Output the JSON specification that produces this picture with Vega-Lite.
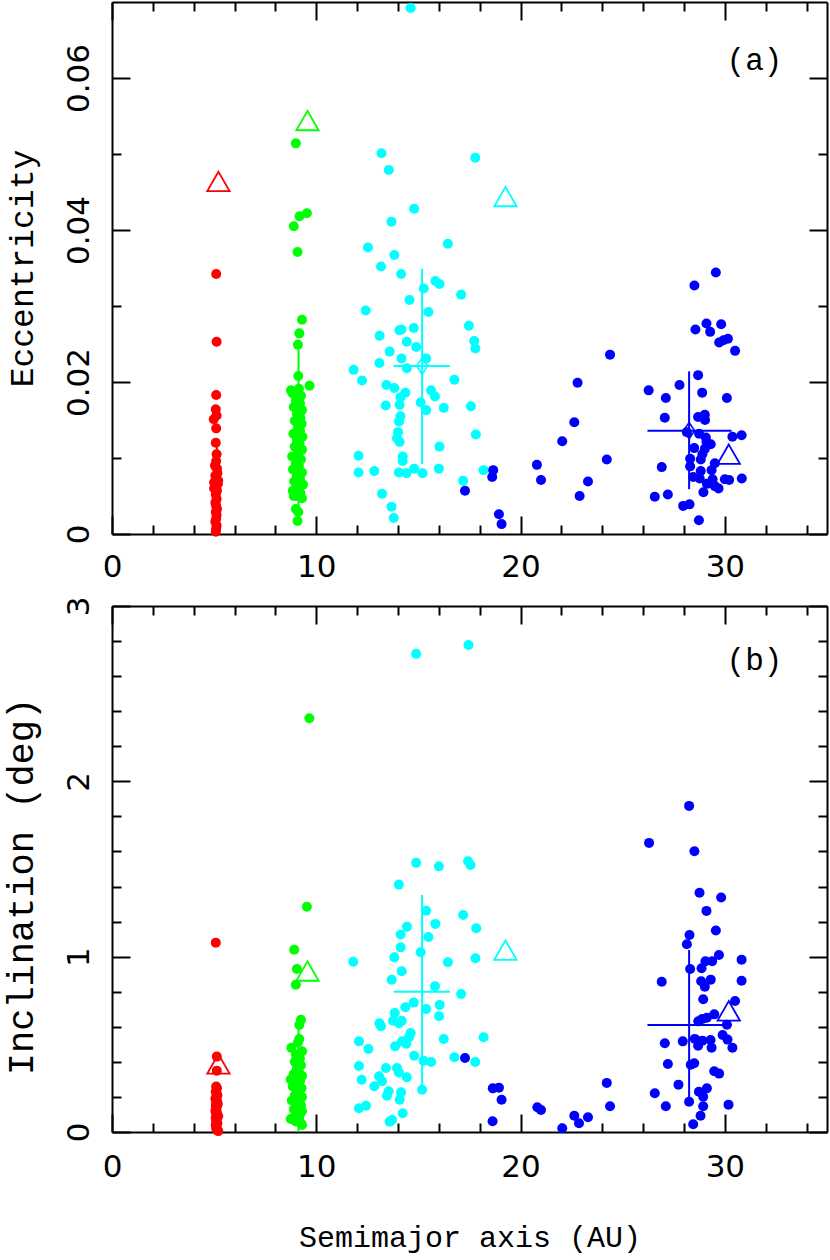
{
  "$schema": "https://vega.github.io/schema/vega-lite/v6.json",
  "padding": {"left": 1, "top": 1, "right": 2, "bottom": 8},
  "background": "white",
  "bounds": "flush",
  "spacing": 72,
  "config": {
    "view": {"stroke": null},
    "axis": {
      "grid": false, "domainColor": "black", "domainWidth": 2, "tickColor": "black", "tickWidth": 2,
      "labelColor": "black", "titleColor": "black", "labelFont": "DejaVu Sans", "labelFontSize": 31,
      "titleFont": "Liberation Mono", "titleFontWeight": "normal", "labelOverlap": false, "labelFlush": false, "labelBound": false
    }
  },
  "datasets": {
    "me": [
      {"g":"J","a":5.10,"v":0.0342},{"g":"J","a":5.12,"v":0.0253},{"g":"J","a":5.10,"v":0.0183},{"g":"J","a":5.08,"v":0.0164},{"g":"J","a":5.12,"v":0.0156},{"g":"J","a":4.98,"v":0.0151},{"g":"J","a":5.10,"v":0.0139},{"g":"J","a":5.08,"v":0.0120},{"g":"J","a":5.12,"v":0.0105},{"g":"J","a":5.10,"v":0.0096},{"g":"J","a":5.14,"v":0.0086},{"g":"J","a":5.06,"v":0.0077},{"g":"J","a":5.20,"v":0.0070},{"g":"J","a":5.00,"v":0.0068},{"g":"J","a":5.10,"v":0.0064},{"g":"J","a":5.14,"v":0.0057},{"g":"J","a":5.08,"v":0.0052},{"g":"J","a":5.12,"v":0.0046},{"g":"J","a":5.06,"v":0.0041},{"g":"J","a":5.10,"v":0.0037},{"g":"J","a":5.14,"v":0.0033},{"g":"J","a":5.08,"v":0.0029},{"g":"J","a":5.12,"v":0.0025},{"g":"J","a":5.10,"v":0.0020},{"g":"J","a":5.06,"v":0.0016},{"g":"J","a":5.12,"v":0.0011},{"g":"J","a":5.10,"v":0.0007},{"g":"J","a":5.08,"v":0.0003},{"g":"J","a":5.16,"v":0.0080},{"g":"J","a":5.04,"v":0.0090},{"g":"J","a":5.00,"v":0.0060},
      {"g":"S","a":9.00,"v":0.0514},{"g":"S","a":9.18,"v":0.0418},{"g":"S","a":9.54,"v":0.0422},{"g":"S","a":8.90,"v":0.0405},{"g":"S","a":9.08,"v":0.0371},{"g":"S","a":9.30,"v":0.0282},{"g":"S","a":9.17,"v":0.0264},{"g":"S","a":9.10,"v":0.0249},{"g":"S","a":9.12,"v":0.0208},{"g":"S","a":9.67,"v":0.0195},{"g":"S","a":8.76,"v":0.0189},{"g":"S","a":9.15,"v":0.0191},
      {"g":"S","a":8.85,"v":0.0185},{"g":"S","a":9.25,"v":0.0182},{"g":"S","a":9.00,"v":0.0176},{"g":"S","a":9.20,"v":0.0172},{"g":"S","a":8.90,"v":0.0167},{"g":"S","a":9.30,"v":0.0163},{"g":"S","a":9.05,"v":0.0158},{"g":"S","a":9.22,"v":0.0153},{"g":"S","a":8.95,"v":0.0149},{"g":"S","a":9.28,"v":0.0145},{"g":"S","a":9.10,"v":0.0140},{"g":"S","a":9.20,"v":0.0136},{"g":"S","a":8.88,"v":0.0132},{"g":"S","a":9.32,"v":0.0128},{"g":"S","a":9.05,"v":0.0124},{"g":"S","a":9.18,"v":0.0119},{"g":"S","a":8.95,"v":0.0115},{"g":"S","a":9.30,"v":0.0111},{"g":"S","a":9.10,"v":0.0106},{"g":"S","a":8.82,"v":0.0102},{"g":"S","a":9.25,"v":0.0098},{"g":"S","a":9.00,"v":0.0093},{"g":"S","a":9.15,"v":0.0089},{"g":"S","a":8.86,"v":0.0085},{"g":"S","a":9.30,"v":0.0081},{"g":"S","a":9.05,"v":0.0077},{"g":"S","a":9.20,"v":0.0073},{"g":"S","a":8.92,"v":0.0069},{"g":"S","a":9.35,"v":0.0065},{"g":"S","a":9.10,"v":0.0061},{"g":"S","a":8.85,"v":0.0057},{"g":"S","a":9.22,"v":0.0054},{"g":"S","a":9.00,"v":0.0050},{"g":"S","a":9.30,"v":0.0047},{"g":"S","a":8.90,"v":0.0050},{"g":"S","a":9.00,"v":0.0033},{"g":"S","a":9.12,"v":0.0029},{"g":"S","a":9.08,"v":0.0017},
      {"g":"U","a":13.19,"v":0.0501},{"g":"U","a":13.55,"v":0.0479},{"g":"U","a":13.68,"v":0.0411},{"g":"U","a":12.53,"v":0.0377},{"g":"U","a":13.82,"v":0.0367},{"g":"U","a":13.17,"v":0.0352},{"g":"U","a":14.15,"v":0.0342},{"g":"U","a":14.62,"v":0.0692},{"g":"U","a":17.78,"v":0.0495},{"g":"U","a":14.79,"v":0.0428},{"g":"U","a":16.44,"v":0.0382},
      {"g":"U","a":12.42,"v":0.0294},{"g":"U","a":13.10,"v":0.0261},{"g":"U","a":13.59,"v":0.0240},{"g":"U","a":13.09,"v":0.0225},{"g":"U","a":11.83,"v":0.0216},{"g":"U","a":12.24,"v":0.0202},{"g":"U","a":13.43,"v":0.0196},{"g":"U","a":13.82,"v":0.0192},{"g":"U","a":13.40,"v":0.0169},{"g":"U","a":12.07,"v":0.0103},{"g":"U","a":12.07,"v":0.0081},{"g":"U","a":12.84,"v":0.0083},{"g":"U","a":13.22,"v":0.0053},{"g":"U","a":13.68,"v":0.0036},{"g":"U","a":13.79,"v":0.0021},{"g":"U","a":14.07,"v":0.0268},
      {"g":"U","a":15.26,"v":0.0323},{"g":"U","a":15.83,"v":0.0333},{"g":"U","a":16.03,"v":0.0329},{"g":"U","a":17.09,"v":0.0315},{"g":"U","a":14.56,"v":0.0308},{"g":"U","a":15.49,"v":0.0292},{"g":"U","a":17.47,"v":0.0274},{"g":"U","a":14.17,"v":0.0269},{"g":"U","a":14.77,"v":0.0271},{"g":"U","a":14.43,"v":0.0253},{"g":"U","a":17.73,"v":0.0254},{"g":"U","a":17.79,"v":0.0244},{"g":"U","a":14.89,"v":0.0246},{"g":"U","a":14.17,"v":0.0231},{"g":"U","a":15.38,"v":0.0231},{"g":"U","a":14.43,"v":0.0218},{"g":"U","a":16.76,"v":0.0203},{"g":"U","a":14.36,"v":0.0186},{"g":"U","a":14.12,"v":0.0180},{"g":"U","a":15.62,"v":0.0189},{"g":"U","a":15.81,"v":0.0181},{"g":"U","a":14.08,"v":0.0170},{"g":"U","a":15.11,"v":0.0173},{"g":"U","a":15.38,"v":0.0163},{"g":"U","a":16.24,"v":0.0166},{"g":"U","a":17.57,"v":0.0168},{"g":"U","a":14.12,"v":0.0155},{"g":"U","a":14.05,"v":0.0148},{"g":"U","a":14.00,"v":0.0134},{"g":"U","a":13.95,"v":0.0126},{"g":"U","a":14.08,"v":0.0121},{"g":"U","a":17.81,"v":0.0131},{"g":"U","a":16.03,"v":0.0115},{"g":"U","a":14.23,"v":0.0102},{"g":"U","a":14.23,"v":0.0096},{"g":"U","a":14.04,"v":0.0081},{"g":"U","a":14.41,"v":0.0080},{"g":"U","a":14.79,"v":0.0086},{"g":"U","a":15.20,"v":0.0080},{"g":"U","a":16.00,"v":0.0086},{"g":"U","a":18.19,"v":0.0084},{"g":"U","a":17.19,"v":0.0070},
      {"g":"N","a":22.79,"v":0.0199},{"g":"N","a":22.63,"v":0.0147},{"g":"N","a":22.04,"v":0.0122},{"g":"N","a":20.80,"v":0.0091},{"g":"N","a":21.00,"v":0.0071},{"g":"N","a":22.89,"v":0.0050},{"g":"N","a":23.30,"v":0.0069},{"g":"N","a":18.66,"v":0.0084},{"g":"N","a":18.61,"v":0.0075},{"g":"N","a":17.28,"v":0.0057},{"g":"N","a":18.94,"v":0.0026},{"g":"N","a":19.07,"v":0.0013},{"g":"N","a":24.38,"v":0.0236},{"g":"N","a":24.22,"v":0.0098},
      {"g":"N","a":29.56,"v":0.0344},{"g":"N","a":28.51,"v":0.0327},{"g":"N","a":29.10,"v":0.0277},{"g":"N","a":29.82,"v":0.0276},{"g":"N","a":28.56,"v":0.0269},{"g":"N","a":29.28,"v":0.0266},{"g":"N","a":29.72,"v":0.0252},{"g":"N","a":29.93,"v":0.0255},{"g":"N","a":30.15,"v":0.0257},{"g":"N","a":30.50,"v":0.0241},{"g":"N","a":28.69,"v":0.0209},{"g":"N","a":26.27,"v":0.0189},{"g":"N","a":27.78,"v":0.0196},{"g":"N","a":27.11,"v":0.0179},{"g":"N","a":28.89,"v":0.0186},{"g":"N","a":30.10,"v":0.0179},{"g":"N","a":27.06,"v":0.0153},{"g":"N","a":28.69,"v":0.0154},{"g":"N","a":29.02,"v":0.0157},{"g":"N","a":29.03,"v":0.0150},{"g":"N","a":28.14,"v":0.0134},{"g":"N","a":28.74,"v":0.0132},{"g":"N","a":29.07,"v":0.0127},{"g":"N","a":29.10,"v":0.0121},{"g":"N","a":29.31,"v":0.0118},{"g":"N","a":30.37,"v":0.0128},{"g":"N","a":30.82,"v":0.0130},{"g":"N","a":28.50,"v":0.0113},{"g":"N","a":29.02,"v":0.0112},{"g":"N","a":28.90,"v":0.0105},{"g":"N","a":28.82,"v":0.0098},{"g":"N","a":28.30,"v":0.0099},{"g":"N","a":28.30,"v":0.0089},{"g":"N","a":29.51,"v":0.0093},{"g":"N","a":29.35,"v":0.0084},{"g":"N","a":28.82,"v":0.0083},{"g":"N","a":26.91,"v":0.0088},{"g":"N","a":28.45,"v":0.0075},{"g":"N","a":28.77,"v":0.0073},{"g":"N","a":29.40,"v":0.0072},{"g":"N","a":30.00,"v":0.0072},{"g":"N","a":30.21,"v":0.0071},{"g":"N","a":30.83,"v":0.0073},{"g":"N","a":29.12,"v":0.0066},{"g":"N","a":29.51,"v":0.0063},{"g":"N","a":29.69,"v":0.0060},{"g":"N","a":28.95,"v":0.0055},{"g":"N","a":26.57,"v":0.0049},{"g":"N","a":27.21,"v":0.0052},{"g":"N","a":27.96,"v":0.0037},{"g":"N","a":28.27,"v":0.0039},{"g":"N","a":28.73,"v":0.0018}
    ],
    "mi": [
      {"g":"J","a":5.08,"v":1.08},{"g":"J","a":5.13,"v":0.43},{"g":"J","a":5.13,"v":0.35},
      {"g":"J","a":5.10,"v":0.26},{"g":"J","a":5.14,"v":0.25},{"g":"J","a":5.08,"v":0.23},{"g":"J","a":5.12,"v":0.22},{"g":"J","a":5.16,"v":0.21},{"g":"J","a":5.10,"v":0.20},{"g":"J","a":5.06,"v":0.19},{"g":"J","a":5.14,"v":0.18},{"g":"J","a":5.10,"v":0.17},{"g":"J","a":5.18,"v":0.16},{"g":"J","a":5.08,"v":0.15},{"g":"J","a":5.12,"v":0.14},{"g":"J","a":5.10,"v":0.13},{"g":"J","a":5.06,"v":0.12},{"g":"J","a":5.14,"v":0.11},{"g":"J","a":5.10,"v":0.10},{"g":"J","a":5.20,"v":0.09},{"g":"J","a":5.08,"v":0.08},{"g":"J","a":5.12,"v":0.07},{"g":"J","a":5.10,"v":0.06},{"g":"J","a":5.16,"v":0.05},{"g":"J","a":5.08,"v":0.04},{"g":"J","a":5.12,"v":0.03},{"g":"J","a":5.10,"v":0.02},{"g":"J","a":5.14,"v":0.01},{"g":"J","a":5.20,"v":0.005},
      {"g":"S","a":9.54,"v":1.285},{"g":"S","a":8.92,"v":1.04},{"g":"S","a":9.05,"v":0.93},{"g":"S","a":9.00,"v":0.84},{"g":"S","a":9.25,"v":0.64},{"g":"S","a":9.17,"v":0.61},{"g":"S","a":9.66,"v":2.36},{"g":"S","a":8.78,"v":0.48},{"g":"S","a":9.17,"v":0.53},{"g":"S","a":9.30,"v":0.46},{"g":"S","a":8.75,"v":0.30},{"g":"S","a":8.75,"v":0.074},{"g":"S","a":9.25,"v":0.05},
      {"g":"S","a":9.10,"v":0.51},{"g":"S","a":9.00,"v":0.44},{"g":"S","a":9.20,"v":0.42},{"g":"S","a":8.95,"v":0.40},{"g":"S","a":9.25,"v":0.38},{"g":"S","a":9.05,"v":0.36},{"g":"S","a":9.15,"v":0.34},{"g":"S","a":8.90,"v":0.33},{"g":"S","a":9.30,"v":0.32},{"g":"S","a":9.00,"v":0.31},{"g":"S","a":9.20,"v":0.29},{"g":"S","a":9.10,"v":0.27},{"g":"S","a":8.85,"v":0.26},{"g":"S","a":9.28,"v":0.25},{"g":"S","a":9.05,"v":0.24},{"g":"S","a":9.15,"v":0.22},{"g":"S","a":8.95,"v":0.21},{"g":"S","a":9.30,"v":0.20},{"g":"S","a":9.10,"v":0.19},{"g":"S","a":8.80,"v":0.18},{"g":"S","a":9.20,"v":0.17},{"g":"S","a":9.00,"v":0.16},{"g":"S","a":9.25,"v":0.15},{"g":"S","a":9.10,"v":0.14},{"g":"S","a":8.90,"v":0.13},{"g":"S","a":9.30,"v":0.12},{"g":"S","a":9.05,"v":0.11},{"g":"S","a":9.20,"v":0.10},{"g":"S","a":8.95,"v":0.09},{"g":"S","a":9.15,"v":0.08},{"g":"S","a":9.00,"v":0.06},{"g":"S","a":9.30,"v":0.04},
      {"g":"U","a":14.89,"v":2.727},{"g":"U","a":17.45,"v":2.778},
      {"g":"U","a":14.89,"v":1.535},{"g":"U","a":16.00,"v":1.515},{"g":"U","a":17.43,"v":1.544},{"g":"U","a":17.55,"v":1.523},{"g":"U","a":14.04,"v":1.411},{"g":"U","a":15.38,"v":1.262},{"g":"U","a":17.19,"v":1.238},{"g":"U","a":15.83,"v":1.187},{"g":"U","a":14.44,"v":1.171},{"g":"U","a":17.83,"v":1.162},{"g":"U","a":14.13,"v":1.126},{"g":"U","a":15.49,"v":1.112},{"g":"U","a":14.13,"v":1.053},{"g":"U","a":15.11,"v":1.025},{"g":"U","a":13.82,"v":0.996},{"g":"U","a":11.81,"v":0.971},{"g":"U","a":16.44,"v":0.968},{"g":"U","a":17.79,"v":0.991},{"g":"U","a":14.18,"v":0.917},{"g":"U","a":13.69,"v":0.869},{"g":"U","a":15.81,"v":0.831},{"g":"U","a":17.09,"v":0.787},{"g":"U","a":14.77,"v":0.738},{"g":"U","a":16.04,"v":0.725},{"g":"U","a":14.36,"v":0.711},{"g":"U","a":15.38,"v":0.702},{"g":"U","a":13.84,"v":0.679},{"g":"U","a":16.01,"v":0.66},{"g":"U","a":13.76,"v":0.635},{"g":"U","a":14.18,"v":0.635},{"g":"U","a":14.05,"v":0.62},{"g":"U","a":13.09,"v":0.62},{"g":"U","a":13.17,"v":0.603},{"g":"U","a":14.62,"v":0.565},{"g":"U","a":14.54,"v":0.54},{"g":"U","a":12.09,"v":0.517},{"g":"U","a":16.24,"v":0.53},{"g":"U","a":18.19,"v":0.54},{"g":"U","a":14.20,"v":0.517},{"g":"U","a":14.41,"v":0.504},{"g":"U","a":13.86,"v":0.489},{"g":"U","a":12.55,"v":0.473},{"g":"U","a":14.79,"v":0.435},{"g":"U","a":16.76,"v":0.426},{"g":"U","a":15.25,"v":0.407},{"g":"U","a":15.62,"v":0.399},{"g":"U","a":17.78,"v":0.399},{"g":"U","a":12.09,"v":0.376},{"g":"U","a":13.41,"v":0.365},{"g":"U","a":13.95,"v":0.365},{"g":"U","a":14.04,"v":0.34},{"g":"U","a":14.43,"v":0.312},{"g":"U","a":13.07,"v":0.318},{"g":"U","a":12.22,"v":0.298},{"g":"U","a":13.22,"v":0.289},{"g":"U","a":12.84,"v":0.261},{"g":"U","a":13.54,"v":0.232},{"g":"U","a":14.15,"v":0.226},{"g":"U","a":13.46,"v":0.207},{"g":"U","a":14.08,"v":0.184},{"g":"U","a":15.18,"v":0.241},{"g":"U","a":12.09,"v":0.135},{"g":"U","a":12.43,"v":0.15},{"g":"U","a":14.23,"v":0.107},{"g":"U","a":13.71,"v":0.068},{"g":"U","a":13.59,"v":0.059},
      {"g":"N","a":17.28,"v":0.422},{"g":"N","a":18.64,"v":0.249},{"g":"N","a":18.94,"v":0.253},{"g":"N","a":19.07,"v":0.184},{"g":"N","a":18.63,"v":0.061},{"g":"N","a":20.82,"v":0.141},{"g":"N","a":21.00,"v":0.125},{"g":"N","a":22.04,"v":0.021},{"g":"N","a":22.63,"v":0.093},{"g":"N","a":22.86,"v":0.05},{"g":"N","a":23.30,"v":0.084},{"g":"N","a":24.22,"v":0.28},{"g":"N","a":24.38,"v":0.147},
      {"g":"N","a":26.29,"v":1.649},{"g":"N","a":28.51,"v":1.601},{"g":"N","a":28.25,"v":1.86},{"g":"N","a":28.76,"v":1.365},{"g":"N","a":29.82,"v":1.337},{"g":"N","a":29.10,"v":1.261},{"g":"N","a":29.56,"v":1.149},{"g":"N","a":28.27,"v":1.124},{"g":"N","a":28.14,"v":1.071},{"g":"N","a":29.71,"v":1.01},{"g":"N","a":30.82,"v":0.983},{"g":"N","a":29.05,"v":0.974},{"g":"N","a":29.38,"v":0.974},{"g":"N","a":28.86,"v":0.934},{"g":"N","a":28.30,"v":0.93},{"g":"N","a":26.91,"v":0.857},{"g":"N","a":28.84,"v":0.86},{"g":"N","a":29.31,"v":0.869},{"g":"N","a":29.02,"v":0.829},{"g":"N","a":30.82,"v":0.863},{"g":"N","a":28.94,"v":0.757},{"g":"N","a":30.50,"v":0.747},{"g":"N","a":29.48,"v":0.671},{"g":"N","a":29.12,"v":0.652},{"g":"N","a":28.90,"v":0.645},{"g":"N","a":28.70,"v":0.631},{"g":"N","a":30.10,"v":0.612},{"g":"N","a":29.89,"v":0.553},{"g":"N","a":30.13,"v":0.527},{"g":"N","a":30.37,"v":0.481},{"g":"N","a":28.53,"v":0.531},{"g":"N","a":28.90,"v":0.521},{"g":"N","a":29.30,"v":0.525},{"g":"N","a":28.69,"v":0.492},{"g":"N","a":29.35,"v":0.481},{"g":"N","a":27.94,"v":0.517},{"g":"N","a":27.06,"v":0.506},{"g":"N","a":27.21,"v":0.388},{"g":"N","a":28.33,"v":0.384},{"g":"N","a":28.50,"v":0.392},{"g":"N","a":29.48,"v":0.346},{"g":"N","a":29.72,"v":0.333},{"g":"N","a":27.73,"v":0.27},{"g":"N","a":26.57,"v":0.221},{"g":"N","a":28.73,"v":0.23},{"g":"N","a":29.12,"v":0.249},{"g":"N","a":28.94,"v":0.201},{"g":"N","a":28.25,"v":0.173},{"g":"N","a":27.11,"v":0.147},{"g":"N","a":28.94,"v":0.147},{"g":"N","a":30.18,"v":0.156},{"g":"N","a":28.81,"v":0.093},{"g":"N","a":28.45,"v":0.044}
    ],
    "pl": [
      {"g":"J","a":5.21,"e":0.0464,"i":0.388},
      {"g":"S","a":9.57,"e":0.0544,"i":0.918},
      {"g":"U","a":19.26,"e":0.0444,"i":1.037},
      {"g":"N","a":30.19,"e":0.0105,"i":0.691}
    ],
    "st": [
      {"g":"J","a":5.13,"a_lo":5.0,"a_hi":5.25,"e":0.0065,"e_lo":0.001,"e_hi":0.012,"i":0.12,"i_lo":0.02,"i_hi":0.22},
      {"g":"S","a":9.13,"a_lo":8.85,"a_hi":9.4,"e":0.0125,"e_lo":0.0015,"e_hi":0.0243,"i":0.33,"i_lo":0.0,"i_hi":0.66},
      {"g":"U","a":15.18,"a_lo":13.79,"a_hi":16.54,"e":0.0221,"e_lo":0.0092,"e_hi":0.0349,"i":0.80,"i_lo":0.245,"i_hi":1.352},
      {"g":"N","a":28.25,"a_lo":26.21,"a_hi":30.33,"e":0.0136,"e_lo":0.0059,"e_hi":0.0214,"i":0.61,"i_lo":0.192,"i_hi":1.038}
    ],
    "lab": [{"p":"(a)"},{"p":"(b)"}]
  },
  "vconcat": [
    {
      "width": 715, "height": 532,
      "resolve": {"axis": {"x": "independent", "y": "independent"}},
      "layer": [
        {
          "data": {"name": "me"},
          "mark": {"type": "circle", "size": 100, "opacity": 1},
          "encoding": {
            "x": {"field": "a", "type": "quantitative", "scale": {"domain": [0, 35], "nice": false, "zero": false},
              "axis": {"orient": "bottom", "values": [0,2,4,6,8,10,12,14,16,18,20,22,24,26,28,30,32,34], "title": null,
                "labelExpr": "datum.value % 10 === 0 ? datum.label : ''",
                "tickSize": {"condition": {"test": "datum.value % 10 === 0", "value": -18}, "value": -9},
                "labelPadding": 36, "labelBaseline": "top", "labelAlign": "center"}},
            "y": {"field": "v", "type": "quantitative", "scale": {"domain": [0, 0.07], "nice": false},
              "axis": {"orient": "left", "values": [0,0.01,0.02,0.03,0.04,0.05,0.06],
                "labelExpr": "abs(datum.value*50-round(datum.value*50))<0.001 ? (datum.value==0 ? '0' : format(datum.value,'.2f')) : ''",
                "tickSize": {"condition": {"test": "abs(datum.value*50-round(datum.value*50))<0.001", "value": -18}, "value": -9},
                "labelAngle": -90, "labelAlign": "center", "labelBaseline": "alphabetic", "labelPadding": 42,
                "title": "Eccentricity", "titleFontSize": 33, "titleAngle": -90, "titleAlign": "center", "titleBaseline": "alphabetic", "titleX": -80, "titleY": 266}},
            "color": {"field": "g", "type": "nominal", "scale": {"domain": ["J","S","U","N"], "range": ["#ff0000","#00ff00","#00ffff","#0000ff"]}, "legend": null}
          }
        },
        {
          "data": {"name": "st"},
          "mark": {"type": "rule", "strokeWidth": 2},
          "encoding": {
            "x": {"field": "a_lo", "type": "quantitative",
              "axis": {"orient": "top", "values": [0,2,4,6,8,10,12,14,16,18,20,22,24,26,28,30,32,34], "title": null, "labels": false,
                "tickSize": {"condition": {"test": "datum.value % 10 === 0", "value": -18}, "value": -9}}},
            "x2": {"field": "a_hi"},
            "y": {"field": "e", "type": "quantitative",
              "axis": {"orient": "right", "values": [0,0.01,0.02,0.03,0.04,0.05,0.06], "title": null, "labels": false,
                "tickSize": {"condition": {"test": "abs(datum.value*50-round(datum.value*50))<0.001", "value": -18}, "value": -9}}},
            "color": {"field": "g", "type": "nominal", "legend": null}
          }
        },
        {
          "data": {"name": "st"},
          "mark": {"type": "rule", "strokeWidth": 2},
          "encoding": {
            "x": {"field": "a", "type": "quantitative", "axis": null},
            "y": {"field": "e_lo", "type": "quantitative", "axis": null},
            "y2": {"field": "e_hi"},
            "color": {"field": "g", "type": "nominal", "legend": null}
          }
        },
        {
          "data": {"name": "st"},
          "mark": {"type": "point", "shape": "M0,-1.5L1,0L0,1.5L-1,0Z", "size": 121, "filled": false, "strokeWidth": 1.6, "opacity": 1},
          "encoding": {
            "x": {"field": "a", "type": "quantitative", "axis": null},
            "y": {"field": "e", "type": "quantitative", "axis": null},
            "color": {"field": "g", "type": "nominal", "legend": null}
          }
        },
        {
          "data": {"name": "pl"},
          "mark": {"type": "point", "shape": "triangle-up", "size": 500, "filled": false, "strokeWidth": 1.8, "opacity": 1},
          "encoding": {
            "x": {"field": "a", "type": "quantitative", "axis": null},
            "y": {"field": "e", "type": "quantitative", "axis": null},
            "color": {"field": "g", "type": "nominal", "legend": null}
          }
        },
        {
          "data": {"name": "lab"},
          "transform": [{"filter": "datum.p === '(a)'"}],
          "mark": {"type": "text", "font": "Liberation Mono", "fontSize": 31, "align": "center", "baseline": "middle", "color": "black"},
          "encoding": {
            "text": {"field": "p"},
            "x": {"datum": 31.45, "type": "quantitative", "axis": null},
            "y": {"datum": 0.0622, "type": "quantitative", "axis": null}
          }
        }
      ]
    },
    {
      "width": 715, "height": 526,
      "resolve": {"axis": {"x": "independent", "y": "independent"}},
      "layer": [
        {
          "data": {"name": "mi"},
          "mark": {"type": "circle", "size": 100, "opacity": 1},
          "encoding": {
            "x": {"field": "a", "type": "quantitative", "scale": {"domain": [0, 35], "nice": false, "zero": false},
              "axis": {"orient": "bottom", "values": [0,2,4,6,8,10,12,14,16,18,20,22,24,26,28,30,32,34],
                "labelExpr": "datum.value % 10 === 0 ? datum.label : ''",
                "tickSize": {"condition": {"test": "datum.value % 10 === 0", "value": -18}, "value": -9},
                "labelPadding": 38, "labelBaseline": "top", "labelAlign": "center",
                "title": "Semimajor axis (AU)", "titleFontSize": 30, "titleAlign": "center", "titleBaseline": "alphabetic", "titleX": 357.5, "titleY": 114}},
            "y": {"field": "v", "type": "quantitative", "scale": {"domain": [0, 3], "nice": false},
              "axis": {"orient": "left", "values": [0,0.2,0.4,0.6,0.8,1,1.2,1.4,1.6,1.8,2,2.2,2.4,2.6,2.8,3],
                "labelExpr": "abs(datum.value-round(datum.value))<0.001 ? format(datum.value,'d') : ''",
                "tickSize": {"condition": {"test": "abs(datum.value-round(datum.value))<0.001", "value": -18}, "value": -9},
                "labelAngle": -90, "labelAlign": "center", "labelBaseline": "alphabetic", "labelPadding": 42,
                "title": "Inclination (deg)", "titleFontSize": 37, "titleAngle": -90, "titleAlign": "center", "titleBaseline": "alphabetic", "titleX": -80, "titleY": 280}},
            "color": {"field": "g", "type": "nominal", "scale": {"domain": ["J","S","U","N"], "range": ["#ff0000","#00ff00","#00ffff","#0000ff"]}, "legend": null}
          }
        },
        {
          "data": {"name": "st"},
          "mark": {"type": "rule", "strokeWidth": 2},
          "encoding": {
            "x": {"field": "a_lo", "type": "quantitative",
              "axis": {"orient": "top", "values": [0,2,4,6,8,10,12,14,16,18,20,22,24,26,28,30,32,34], "title": null, "labels": false,
                "tickSize": {"condition": {"test": "datum.value % 10 === 0", "value": -18}, "value": -9}}},
            "x2": {"field": "a_hi"},
            "y": {"field": "i", "type": "quantitative",
              "axis": {"orient": "right", "values": [0,0.2,0.4,0.6,0.8,1,1.2,1.4,1.6,1.8,2,2.2,2.4,2.6,2.8,3], "title": null, "labels": false,
                "tickSize": {"condition": {"test": "abs(datum.value-round(datum.value))<0.001", "value": -18}, "value": -9}}},
            "color": {"field": "g", "type": "nominal", "legend": null}
          }
        },
        {
          "data": {"name": "st"},
          "mark": {"type": "rule", "strokeWidth": 2},
          "encoding": {
            "x": {"field": "a", "type": "quantitative", "axis": null},
            "y": {"field": "i_lo", "type": "quantitative", "axis": null},
            "y2": {"field": "i_hi"},
            "color": {"field": "g", "type": "nominal", "legend": null}
          }
        },
        {
          "data": {"name": "pl"},
          "mark": {"type": "point", "shape": "triangle-up", "size": 500, "filled": false, "strokeWidth": 1.8, "opacity": 1},
          "encoding": {
            "x": {"field": "a", "type": "quantitative", "axis": null},
            "y": {"field": "i", "type": "quantitative", "axis": null},
            "color": {"field": "g", "type": "nominal", "legend": null}
          }
        },
        {
          "data": {"name": "lab"},
          "transform": [{"filter": "datum.p === '(b)'"}],
          "mark": {"type": "text", "font": "Liberation Mono", "fontSize": 31, "align": "center", "baseline": "middle", "color": "black"},
          "encoding": {
            "text": {"field": "p"},
            "x": {"datum": 31.45, "type": "quantitative", "axis": null},
            "y": {"datum": 2.687, "type": "quantitative", "axis": null}
          }
        }
      ]
    }
  ]
}
